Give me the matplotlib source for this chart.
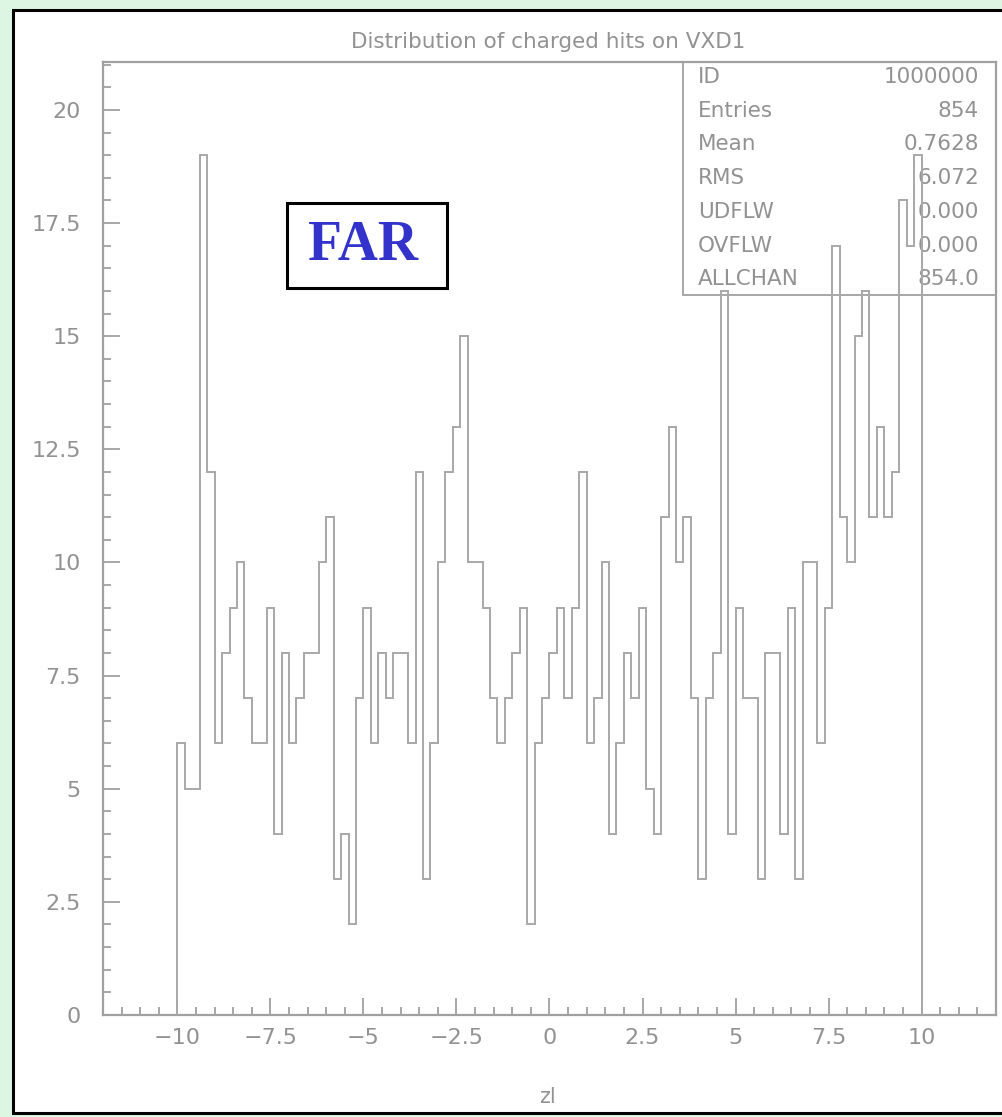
import matplotlib
matplotlib.use('Agg')
import matplotlib.pyplot as plt
import numpy as np
from matplotlib.patches import Rectangle
from matplotlib.ticker import MultipleLocator, FuncFormatter

# ============================
# HISTOGRAM DATA (100 bins, -10..10)
# ============================

bin_lo = -10.0
bin_hi = 10.0
counts = [6, 5, 5, 19, 12, 6, 8, 9, 10, 7,
          6, 6, 9, 4, 8, 6, 7, 8, 8, 10,
          11, 3, 4, 2, 7, 9, 6, 8, 7, 8,
          8, 6, 12, 3, 6, 10, 12, 13, 15, 10,
          10, 9, 7, 6, 7, 8, 9, 2, 6, 7,
          8, 9, 7, 9, 12, 6, 7, 10, 4, 6,
          8, 7, 9, 5, 4, 11, 13, 10, 11, 7,
          3, 7, 8, 16, 4, 9, 7, 7, 3, 8,
          8, 4, 9, 3, 10, 10, 6, 9, 17, 11,
          10, 15, 16, 11, 13, 11, 12, 18, 17, 19]

stat_names = ["ID", "Entries", "Mean", "RMS", "UDFLW", "OVFLW", "ALLCHAN"]
stat_values = ["1000000", "854", "0.7628", "6.072", "0.000", "0.000", "854.0"]

title = "Distribution of charged hits on VXD1"
xlabel = "zl"
tag = "FAR"

# ============================
# FIGURE
# ============================

W, H = 1003, 1117
fig = plt.figure(figsize=(W / 100, H / 100), dpi=100, facecolor='#dcf6e3')

def fx(px):
    return px / W

def fy(py):
    return 1 - py / H

# white panel with black frame
panel = Rectangle((fx(13), fy(1113)), fx(1010) - fx(13), fy(10) - fy(1113),
                  transform=fig.transFigure, facecolor='white',
                  edgecolor='black', lw=2.2, zorder=0)
fig.patches.append(panel)

grey = '#a0a0a0'
text_grey = '#929292'

ax = fig.add_axes([fx(103), fy(1015), fx(996) - fx(103), fy(62) - fy(1015)])
ax.set_facecolor('none')

edges = np.linspace(bin_lo, bin_hi, len(counts) + 1)
ax.stairs(counts, edges, color='#a8a8a8', lw=1.4, zorder=3)

ax.set_xlim(-12, 12)
ax.set_ylim(0, 21.06)

for s in ax.spines.values():
    s.set_color(grey)
    s.set_linewidth(1.6)

fmt = FuncFormatter(lambda v, p: f"{v:g}".replace('-', '\u2212'))
ax.xaxis.set_major_locator(MultipleLocator(2.5))
ax.xaxis.set_minor_locator(MultipleLocator(0.5))
ax.yaxis.set_major_locator(MultipleLocator(2.5))
ax.yaxis.set_minor_locator(MultipleLocator(0.5))
ax.xaxis.set_major_formatter(fmt)
ax.yaxis.set_major_formatter(fmt)

ax.tick_params(which='both', direction='in', color=grey, width=1.3,
               labelcolor=text_grey, labelsize=16, top=False, right=False)
ax.tick_params(which='major', length=12)
ax.tick_params(which='minor', length=5.8)
ax.tick_params(axis='y', pad=16)
ax.tick_params(axis='x', pad=9)

fig.text(fx(548), fy(42), title, ha='center', va='center',
         fontsize=15.5, color=text_grey)
fig.text(fx(548), fy(1097), xlabel, ha='center', va='center',
         fontsize=15, color=text_grey)

# ============================
# STATISTICS BOX
# ============================

bx0, by0 = 683, 295
stat_box = Rectangle((fx(bx0), fy(by0)), fx(996) - fx(bx0), fy(62) - fy(by0),
                     transform=fig.transFigure, facecolor='white',
                     edgecolor=grey, lw=1.3, zorder=1)
fig.patches.append(stat_box)
ax.set_zorder(2)

for i, (name, val) in enumerate(zip(stat_names, stat_values)):
    y = 77 + i * 33.7
    fig.text(fx(698), fy(y), name, ha='left', va='center',
             fontsize=15.5, color=text_grey, zorder=1)
    fig.text(fx(979), fy(y), val, ha='right', va='center',
             fontsize=15.5, color=text_grey, zorder=1)

# ============================
# LABEL BOX
# ============================

label_box = Rectangle((fx(287), fy(288)), fx(447) - fx(287), fy(203) - fy(288),
                      transform=fig.transFigure, facecolor='white',
                      edgecolor='black', lw=2.2, zorder=4)
fig.add_artist(label_box)
fig.text(fx(363), fy(246), tag, ha='center', va='center',
         fontsize=40, fontweight='bold', family='Liberation Serif',
         color='#3333cc', zorder=5)

fig.savefig('out.png', dpi=100, facecolor=fig.get_facecolor())
